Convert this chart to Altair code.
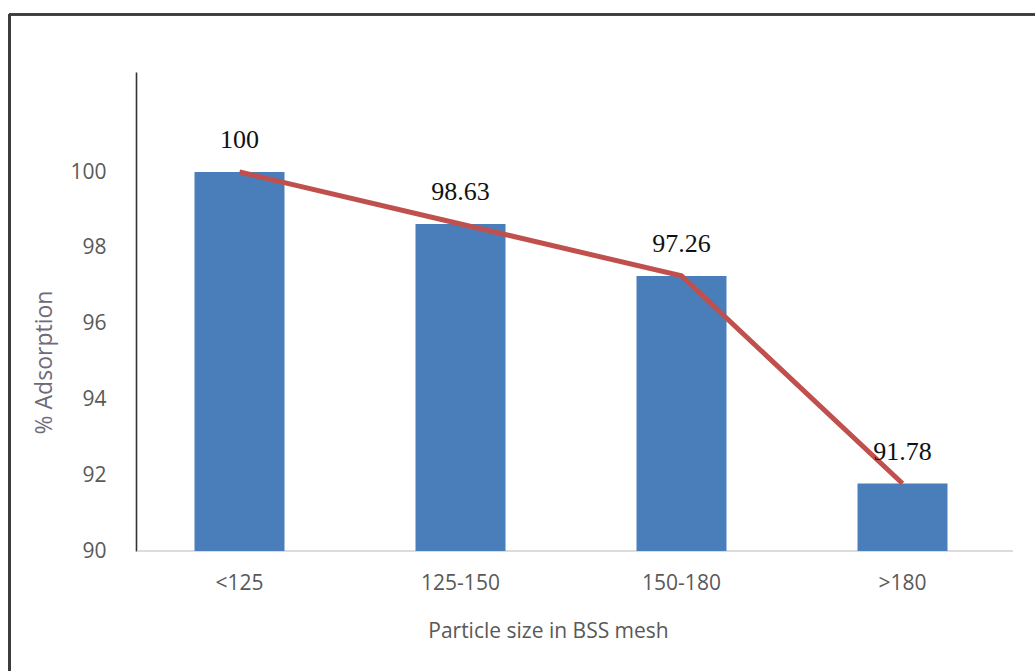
import altair as alt
import pandas as pd

categories = ["<125", "125-150", "150-180", ">180"]
adsorption = [100, 98.63, 97.26, 91.78]
labels = ["100", "98.63", "97.26", "91.78"]
y_ticks = [90, 92, 94, 96, 98, 100]

df = pd.DataFrame({"size": categories, "ads": adsorption, "label": labels})

W, H = 884, 479

x_enc = alt.X(
    "size:N",
    sort=categories,
    scale=alt.Scale(paddingInner=0, paddingOuter=0),
    axis=alt.Axis(
        title="Particle size in BSS mesh",
        labelAngle=0,
        labelFont="Open Sans",
        labelFontSize=21,
        labelColor="#595959",
        labelPadding=32,
        labelBaseline="middle",
        ticks=False,
        domain=False,
        titleFont="Open Sans",
        titleFontSize=21,
        titleFontWeight="normal",
        titleColor="#595959",
        titleX=419,
        titleY=80,
        titleBaseline="middle",
    ),
)

y_scale = alt.Scale(domain=[90, 102.64], nice=False, zero=False)

y_enc = alt.Y(
    "ads:Q",
    scale=y_scale,
    axis=alt.Axis(
        values=y_ticks,
        grid=False,
        ticks=False,
        offset=-7,
        domainColor="#333333",
        domainWidth=1.6,
        labelFont="Open Sans",
        labelFontSize=21,
        labelColor="#595959",
        labelPadding=30,
        title="% Adsorption",
        titleFont="Open Sans",
        titleFontSize=23,
        titleFontWeight="normal",
        titleColor="#6e6a78",
        titleAngle=270,
        titleX=-92,
        titleY=290,
        titleAlign="center",
        titleBaseline="middle",
    ),
)

bars = alt.Chart(df).mark_bar(size=90, color="#4a7ebb").encode(
    x=x_enc, y=y_enc, y2=alt.datum(90)
)

line = alt.Chart(df).mark_line(color="#c0504d", strokeWidth=5).encode(
    x=alt.X("size:N", sort=categories), y=alt.Y("ads:Q")
)

text = alt.Chart(df).mark_text(
    font="Liberation Serif", fontSize=26, color="#111111", dy=-32, baseline="middle"
).encode(x=alt.X("size:N", sort=categories), y=alt.Y("ads:Q"), text="label:N")

xaxis_line = alt.Chart(df).mark_rule(color="#d9d9d9", strokeWidth=1.2).encode(
    x=alt.value(8), x2=alt.value(W), y=alt.value(H)
)

frame_top = alt.Chart(df).mark_rule(color="#3a3a3a", strokeWidth=2.2).encode(
    x=alt.value(-120), x2=alt.value(W + 30), y=alt.value(-57.5)
)
frame_left = alt.Chart(df).mark_rule(color="#3a3a3a", strokeWidth=2.2).encode(
    x=alt.value(-119.5), y=alt.value(-58), y2=alt.value(H + 130)
)

chart = (
    alt.layer(xaxis_line, bars, line, text, frame_top, frame_left)
    .properties(
        width=W,
        height=H,
        autosize=alt.AutoSizeParams(type="none"),
        padding={"left": 129, "top": 72, "right": 22, "bottom": 120},
        background="white",
    )
    .configure_view(stroke=None)
)

chart.save("out.html", embed_options={"renderer": "svg", "actions": False})
